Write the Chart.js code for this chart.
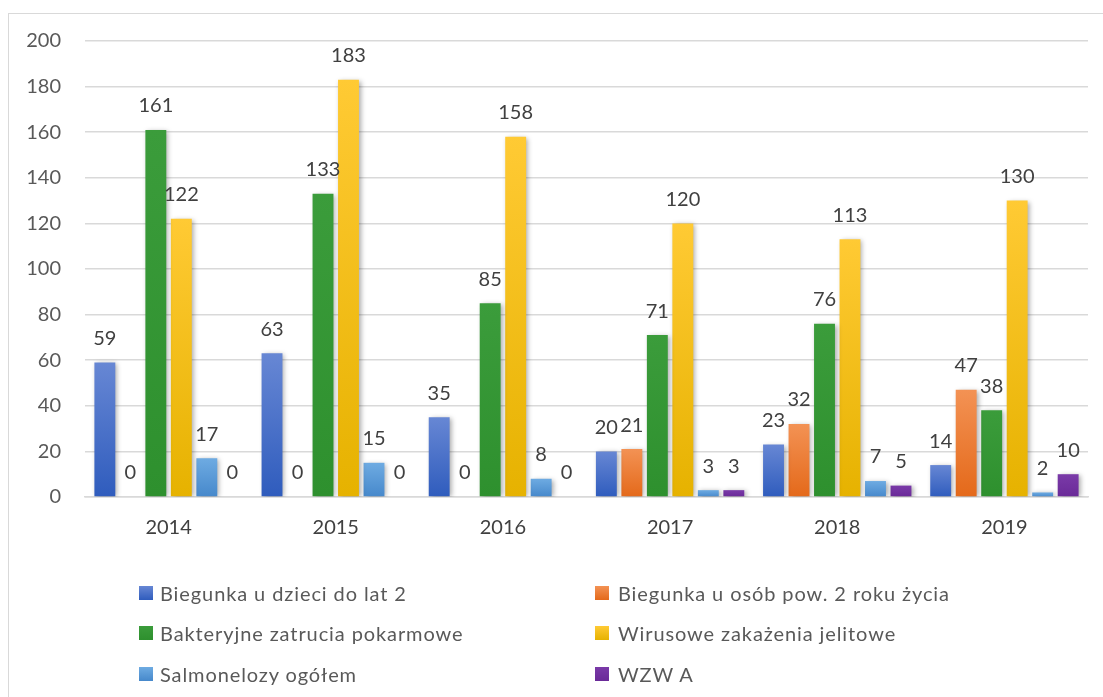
<!DOCTYPE html>
<html>
<head>
<meta charset="utf-8">
<script src="https://cdn.jsdelivr.net/npm/chart.js@4/dist/chart.umd.min.js"></script>
<style>
  html, body { margin: 0; padding: 0; background: #fff; width: 1103px; height: 697px; overflow: hidden; }
  #frame { position: absolute; left: 8px; top: 13px; width: 1110px; height: 700px; border: 1px solid #d9d9d9; box-sizing: border-box; }
  #c { position: absolute; left: 0; top: 0; }
  .lg { position: absolute; font-family: Lato, "Open Sans", sans-serif; font-size: 20px; letter-spacing: 0.9px; color: #595959; line-height: 24px; white-space: nowrap; }
  .sw { position: absolute; width: 14px; height: 14px; }
</style>
</head>
<body>
<div id="frame"></div>
<canvas id="c" width="1103" height="697"></canvas>
<div id="legend"></div>
<script>
const years = ['2014', '2015', '2016', '2017', '2018', '2019'];
const seriesNames = [
  'Biegunka u dzieci do lat 2',
  'Biegunka u osób pow. 2 roku życia',
  'Bakteryjne zatrucia pokarmowe',
  'Wirusowe zakażenia jelitowe',
  'Salmonelozy ogółem',
  'WZW A'
];
const biegunkaDzieci = [59, 63, 35, 20, 23, 14];
const biegunkaOsob = [0, 0, 0, 21, 32, 47];
const bakteryjne = [161, 133, 85, 71, 76, 38];
const wirusowe = [122, 183, 158, 120, 113, 130];
const salmonelozy = [17, 15, 8, 3, 7, 2];
const wzwA = [0, 0, 0, 3, 5, 10];
const yTicks = [0, 20, 40, 60, 80, 100, 120, 140, 160, 180, 200];

const seriesValues = [biegunkaDzieci, biegunkaOsob, bakteryjne, wirusowe, salmonelozy, wzwA];
const gradColors = [
  ['#6787d4', '#2f5cbd'],
  ['#f39254', '#e4691a'],
  ['#3b9c3b', '#2e902e'],
  ['#ffca34', '#e6b200'],
  ['#6eabe2', '#4688cb'],
  ['#7a3aa8', '#6a2a98']
];

function barFill(idx) {
  return function(ctx) {
    const chart = ctx.chart;
    const area = chart.chartArea;
    if (!area || ctx.type !== 'data') return gradColors[idx][1];
    const y = chart.scales.y;
    const top = y.getPixelForValue(ctx.raw);
    const bottom = y.getPixelForValue(0);
    if (bottom - top < 1) return gradColors[idx][1];
    const g = chart.ctx.createLinearGradient(0, top, 0, bottom);
    g.addColorStop(0, gradColors[idx][0]);
    g.addColorStop(1, gradColors[idx][1]);
    return g;
  };
}

const datasets = seriesNames.map((name, i) => ({
  label: name,
  data: seriesValues[i],
  backgroundColor: barFill(i),
  borderWidth: 0,
  categoryPercentage: 0.915,
  barPercentage: 0.82
}));

const labelPlugin = {
  id: 'barLabels',
  beforeDatasetsDraw(chart) {
    const ctx = chart.ctx;
    ctx.save();
    ctx.shadowColor = 'rgba(0,0,0,0.35)';
    ctx.shadowBlur = 5;
    ctx.shadowOffsetX = 2;
    ctx.shadowOffsetY = 1;
  },
  afterDatasetsDraw(chart) {
    const ctx = chart.ctx;
    ctx.restore();
    ctx.save();
    ctx.font = '20px Lato, "Open Sans", sans-serif';
    ctx.fillStyle = '#404040';
    ctx.textAlign = 'center';
    ctx.textBaseline = 'middle';
    chart.data.datasets.forEach((ds, di) => {
      const meta = chart.getDatasetMeta(di);
      meta.data.forEach((el, j) => {
        ctx.fillText(String(ds.data[j]), el.x, el.y - 24);
      });
    });
    ctx.restore();
  }
};

new Chart(document.getElementById('c'), {
  type: 'bar',
  data: { labels: years, datasets: datasets },
  options: {
    responsive: false,
    animation: false,
    layout: { padding: { left: 0, right: 15, top: 41, bottom: 0 } },
    plugins: { legend: { display: false }, tooltip: { enabled: false } },
    scales: {
      x: {
        grid: { display: false, drawTicks: false },
        border: { display: true, color: '#d9d9d9', width: 1.5 },
        ticks: { color: '#404040', font: { family: 'Lato', size: 20 }, padding: 19 },
        afterFit(scale) { scale.height = 200; }
      },
      y: {
        min: 0, max: 200,
        afterBuildTicks(scale) { scale.ticks = yTicks.map(v => ({ value: v })); },
        grid: { color: '#d9d9d9', lineWidth: 1.5, drawTicks: false },
        border: { display: false },
        ticks: { color: '#595959', font: { family: 'Lato', size: 20 }, padding: 24 },
        afterFit(scale) { scale.width = 85; }
      }
    }
  },
  plugins: [labelPlugin]
});

// HTML legend built from the series arrays
const legendPos = [
  { sw: 139, tx: 160, y: 593 },
  { sw: 595, tx: 618, y: 593 },
  { sw: 139, tx: 160, y: 633 },
  { sw: 595, tx: 618, y: 633 },
  { sw: 139, tx: 160, y: 674 },
  { sw: 595, tx: 618, y: 674 }
];
const lg = document.getElementById('legend');
seriesNames.forEach((name, i) => {
  const p = legendPos[i];
  const s = document.createElement('div');
  s.className = 'sw';
  s.style.left = p.sw + 'px';
  s.style.top = (p.y - 7) + 'px';
  s.style.background = 'linear-gradient(' + gradColors[i][0] + ',' + gradColors[i][1] + ')';
  lg.appendChild(s);
  const t = document.createElement('div');
  t.className = 'lg';
  t.style.left = p.tx + 'px';
  t.style.top = (p.y - 12) + 'px';
  t.textContent = name;
  lg.appendChild(t);
});
</script>
</body>
</html>
